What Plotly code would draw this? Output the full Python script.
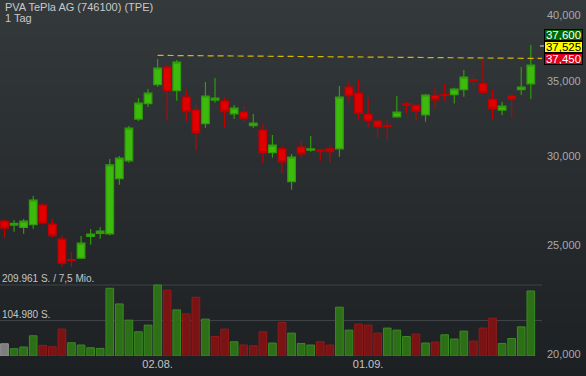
import math
import plotly.graph_objects as go

# ---------------- data ----------------
dates = [
    "2021-07-09", "2021-07-12", "2021-07-13", "2021-07-14", "2021-07-15", "2021-07-16",
    "2021-07-19", "2021-07-20", "2021-07-21", "2021-07-22", "2021-07-23",
    "2021-07-26", "2021-07-27", "2021-07-28", "2021-07-29", "2021-07-30",
    "2021-08-02", "2021-08-03", "2021-08-04", "2021-08-05", "2021-08-06",
    "2021-08-09", "2021-08-10", "2021-08-11", "2021-08-12", "2021-08-13",
    "2021-08-16", "2021-08-17", "2021-08-18", "2021-08-19", "2021-08-20",
    "2021-08-23", "2021-08-24", "2021-08-25", "2021-08-26", "2021-08-27",
    "2021-08-30", "2021-08-31", "2021-09-01", "2021-09-02", "2021-09-03",
    "2021-09-06", "2021-09-07", "2021-09-08", "2021-09-09", "2021-09-10",
    "2021-09-13", "2021-09-14", "2021-09-15", "2021-09-16", "2021-09-17",
    "2021-09-20", "2021-09-21", "2021-09-22", "2021-09-23", "2021-09-24",
]
open_ = [26.27, 26.06, 25.94, 26.08, 27.15, 26.11, 25.32, 24.29, 24.36, 25.46, 25.62,
         25.60, 28.65, 29.72, 32.37, 33.40, 34.72, 36.00, 34.30, 33.86, 32.97,
         32.06, 33.65, 33.58, 32.72, 32.84, 31.93, 31.65, 30.22, 30.45, 28.48,
         30.57, 30.38, 30.38, 30.45, 30.46, 34.56, 34.14, 32.70, 32.24, 31.95,
         32.52, 33.40, 33.29, 32.65, 33.98, 34.02, 34.02, 34.37, 35.08, 34.82,
         33.70, 32.97, 33.93, 34.37, 34.79]
high = [26.33, 26.33, 26.38, 27.65, 27.22, 26.38, 25.53, 24.66, 25.48, 25.85, 25.95,
        29.83, 30.01, 31.91, 33.79, 34.42, 36.60, 36.08, 36.52, 34.35, 33.31,
        34.91, 35.20, 33.86, 33.31, 33.24, 32.71, 32.04, 31.33, 30.63, 30.14,
        30.95, 31.27, 30.45, 30.69, 34.63, 34.99, 35.06, 33.86, 32.30, 32.30,
        33.93, 33.58, 33.38, 34.07, 34.51, 34.84, 34.51, 35.78, 35.49, 36.52,
        34.35, 33.52, 34.07, 36.00, 37.66]
low = [25.38, 25.71, 25.60, 25.86, 26.08, 25.39, 23.92, 23.92, 24.31, 25.03, 25.34,
       25.53, 28.30, 29.60, 32.24, 33.17, 34.58, 32.26, 33.60, 32.19, 30.34,
       31.80, 33.47, 31.80, 32.37, 32.17, 31.78, 29.60, 29.91, 28.94, 28.01,
       29.91, 30.28, 29.73, 29.60, 29.97, 33.47, 32.33, 31.80, 31.16, 31.03,
       32.46, 32.75, 32.30, 32.19, 33.02, 33.60, 33.42, 33.88, 34.65, 34.12,
       32.30, 32.64, 32.46, 34.00, 33.72]
close = [25.90, 26.15, 26.27, 27.43, 26.18, 25.50, 24.10, 24.24, 25.12, 25.58, 25.74,
         29.47, 29.89, 31.78, 33.45, 34.14, 35.93, 34.30, 36.37, 32.86, 31.48,
         33.93, 33.79, 32.86, 33.11, 32.39, 32.11, 30.22, 30.69, 29.66, 29.95,
         30.15, 30.45, 30.32, 30.28, 33.86, 33.95, 32.75, 32.26, 31.85, 31.88,
         32.84, 33.29, 32.88, 34.00, 33.67, 33.98, 34.42, 35.27, 35.01, 34.19,
         33.06, 33.24, 33.70, 34.56, 36.15]
volume = [36200, 21500, 26500, 59800, 31200, 27400, 79500, 39200, 32400, 24400, 22400,
          200300, 154000, 106000, 71600, 91300, 209961, 194400, 136400, 124600, 173700,
          109000, 57700, 79500, 42100, 32400, 30300, 71600, 38300, 99000, 67700,
          37100, 32400, 42100, 32400, 144300, 76600, 94200, 91300, 67700, 82500,
          76600, 57700, 64800, 38300, 41200, 62700, 50100, 73600, 44200, 82500,
          111900, 37100, 51800, 86300, 192300]

price_ticks = [20, 25, 30, 35, 40]
date_tick_vals = ["2021-08-02", "2021-09-01"]
date_tick_text = ["02.08.", "01.09."]
vol_levels = [209961, 104980]
vol_level_text = ["209.961 S. / 7,5 Mio.", "104.980 S."]
quote_values = [37.600, 37.525, 37.450]          # ask / last / bid badges
trend_start = "2021-08-02"
trend_prices = [36.87, 36.64]
title_text = "PVA TePla AG (746100) (TPE)"
period_text = "1 Tag"

# ---------------- styling ----------------
W, H = 586, 376
ML, MR, MT, MB = 0, 44, 0, 20
PLOT_H = H - MT - MB
PLOT_W = W - ML - MR
FONT = "Liberation Sans, Arial, sans-serif"

GREEN_FILL, GREEN_LINE = "#3dbb0c", "#2f9c0a"
RED_FILL, RED_LINE = "#e00000", "#c00000"
VOL_GREEN, VOL_GREEN_LINE = "#2c6f17", "#3a8a22"
VOL_RED, VOL_RED_LINE = "#7a1313", "#921a1a"
VOL_GRAY, VOL_GRAY_LINE = "#7d7d7d", "#959595"

vol_fill, vol_line = [], []
for i in range(len(volume)):
    if i == 0:
        vol_fill.append(VOL_GRAY); vol_line.append(VOL_GRAY_LINE)
    elif close[i] >= close[i - 1]:
        vol_fill.append(VOL_GREEN); vol_line.append(VOL_GREEN_LINE)
    else:
        vol_fill.append(VOL_RED); vol_line.append(VOL_RED_LINE)

fig = go.Figure()
fig.add_trace(go.Candlestick(
    x=dates, open=open_, high=high, low=low, close=close,
    increasing=dict(line=dict(color=GREEN_LINE, width=1.2), fillcolor=GREEN_FILL),
    decreasing=dict(line=dict(color=RED_LINE, width=1.2), fillcolor=RED_FILL),
    whiskerwidth=0, showlegend=False, hoverinfo="skip", yaxis="y",
))
fig.add_trace(go.Bar(
    x=dates, y=volume, yaxis="y2",
    marker=dict(color=vol_fill, line=dict(color=vol_line, width=1)),
    showlegend=False, hoverinfo="skip",
))

# background gradient bands
top_rgb = (52, 57, 60)
bot_rgb = (29, 32, 35)
shapes = []
band = 4
for b in range(0, H, band):
    f = (b + band / 2) / H
    c = tuple(round(top_rgb[k] + (bot_rgb[k] - top_rgb[k]) * f) for k in range(3))
    shapes.append(dict(
        type="rect", xref="paper", yref="paper", layer="below",
        x0=-0.01, x1=(W + 5) / PLOT_W,
        y0=(PLOT_H - (b + band)) / PLOT_H, y1=(PLOT_H - b) / PLOT_H,
        fillcolor="rgb(%d,%d,%d)" % c, line=dict(width=0),
    ))
# volume gridlines
for lv in vol_levels:
    shapes.append(dict(type="line", xref="paper", yref="y2", layer="below",
                       x0=0, x1=1, y0=lv, y1=lv,
                       line=dict(color="#3d4246", width=1)))

x_range = [-0.47, 56.17]
# resistance (trend) line
shapes.append(dict(type="line", xref="x", yref="y", layer="above",
                   x0=dates.index(trend_start), x1=x_range[1],
                   y0=trend_prices[0], y1=trend_prices[1],
                   line=dict(color="#d6b800", width=1.2, dash="6px,4px")))
# small gray marker at last price
shapes.append(dict(type="rect", xref="paper", yref="y", xsizemode="pixel", ysizemode="pixel",
                   xanchor=1, yanchor=quote_values[1], x0=-2, x1=2, y0=-1.5, y1=1.5,
                   fillcolor="#a6a6a6", line=dict(width=0)))

annotations = [
    dict(text=title_text, xref="paper", yref="paper", x=0, y=1, xanchor="left", yanchor="top",
         xshift=3, yshift=1, showarrow=False, font=dict(size=11, color="#c8c8c8", family=FONT)),
    dict(text=period_text, xref="paper", yref="paper", x=0, y=1, xanchor="left", yanchor="top",
         xshift=3, yshift=-10, showarrow=False, font=dict(size=11, color="#c8c8c8", family=FONT)),
]
for lv, txt in zip(vol_levels, vol_level_text):
    annotations.append(dict(text=txt, xref="paper", yref="y2", x=0, y=lv,
                            xanchor="left", yanchor="bottom", showarrow=False, yshift=-1,
                            font=dict(size=10, color="#c4c4c4", family=FONT)))
badge_style = [("#006a00", "#ffffff", 12), ("#ffff00", "#000000", 0), ("#e0001c", "#ffffff", -12)]
for v, (bg, fg, sh) in zip(quote_values, badge_style):
    annotations.append(dict(
        text=f"{v:.3f}".replace(".", ","), xref="paper", yref="y",
        x=1, y=math.log10(quote_values[1]), xanchor="left", yanchor="middle",
        xshift=2, yshift=sh, showarrow=False, bgcolor=bg, bordercolor="#000000",
        borderwidth=1, borderpad=0, width=37, height=10,
        font=dict(size=11.5, color=fg, family=FONT)))

fig.update_layout(
    width=W, height=H,
    margin=dict(l=ML, r=MR, t=MT, b=MB, pad=0),
    paper_bgcolor="rgb(29,32,35)", plot_bgcolor="rgba(0,0,0,0)",
    separators=",.", bargap=0.2, boxgap=0.2, boxgroupgap=0,
    showlegend=False, font=dict(family=FONT),
    shapes=shapes, annotations=annotations,
    xaxis=dict(type="category", range=x_range, rangeslider=dict(visible=False),
               showgrid=False, zeroline=False, showline=False, ticks="",
               tickvals=date_tick_vals, ticktext=date_tick_text,
               tickfont=dict(size=11, color="#c4c4c4"), fixedrange=True),
    yaxis=dict(type="log", range=[math.log10(19.94), math.log10(41.29)], side="right",
               showgrid=False, zeroline=False, showline=False, ticks="",
               tickvals=price_ticks, tickformat=".3f", ticklabelstandoff=4,
               tickfont=dict(size=11, color="#a9a9a9"), fixedrange=True),
    yaxis2=dict(overlaying="y", side="right", visible=False,
                range=[0, vol_levels[0] * PLOT_H / (PLOT_H - 285)], fixedrange=True),
)

fig.write_html("out.html", config={"displayModeBar": False},
               post_script="document.body.style.margin='0';document.body.style.overflow='hidden';")
